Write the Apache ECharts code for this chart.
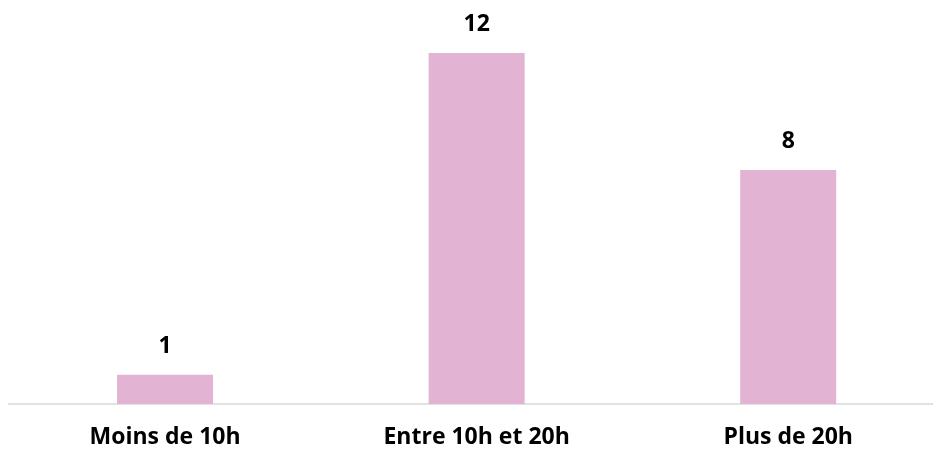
<!DOCTYPE html>
<html>
<head>
<meta charset="utf-8">
<script src="https://cdn.jsdelivr.net/npm/echarts@6/dist/echarts.min.js"></script>
<style>
  html, body { margin: 0; padding: 0; background: #fff; overflow: hidden; }
  #chart { width: 944px; height: 450px; }
</style>
</head>
<body>
<div id="chart"></div>
<script>
// catégories et valeurs
const categories = ['Moins de 10h', 'Entre 10h et 20h', 'Plus de 20h']
const values = [1, 12, 8]

const chart = echarts.init(document.getElementById('chart'))

chart.setOption({
  animation: false,
  grid: { left: 9.25, right: 0, top: 23.75, bottom: 46 },
  xAxis: {
    type: 'category',
    data: categories,
    axisLine: { show: false },
    axisTick: { show: false },
    axisLabel: {
      margin: 22,
      color: '#000',
      fontFamily: 'Open Sans',
      fontWeight: 'bold',
      fontSize: 23
    }
  },
  yAxis: {
    type: 'value',
    min: 0,
    max: 13,
    show: false,
    splitLine: { show: false }
  },
  // ligne de base dessinée en graphic pour aller jusqu'au bord droit
  graphic: [{
    type: 'line',
    shape: { x1: 8, y1: 404, x2: 944, y2: 404 },
    style: { stroke: '#d9d9d9', lineWidth: 1.5 },
    z: 0
  }],
  series: [{
    type: 'bar',
    data: values,
    barWidth: 96,
    itemStyle: { color: '#e2b3d2' },
    label: {
      show: true,
      position: 'top',
      distance: 17,
      color: '#000',
      fontFamily: 'Open Sans',
      fontWeight: 'bold',
      fontSize: 23
    }
  }]
})
</script>
</body>
</html>
